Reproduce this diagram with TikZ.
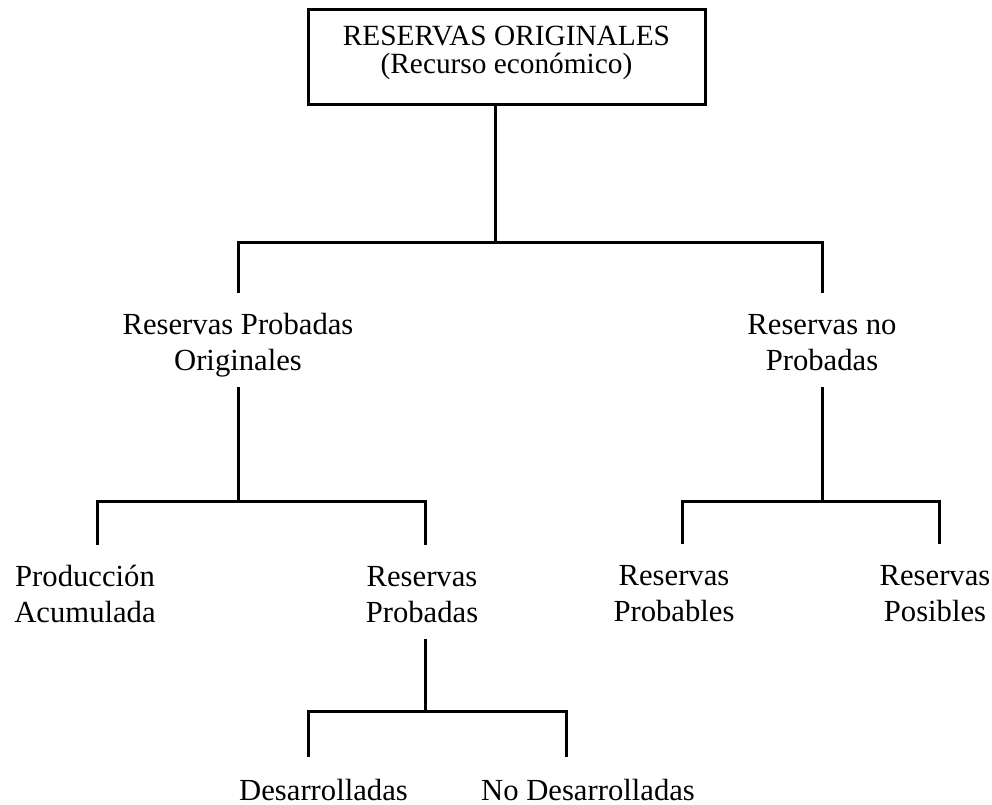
\documentclass[tikz,border=0pt]{standalone}
\usepackage{fontspec}
\setmainfont{Liberation Serif}
\begin{document}
\begin{tikzpicture}[x=0.75pt,y=-0.75pt,line width=2.25pt,
	font=\fontsize{23}{27}\selectfont,
	lbl/.style={align=center,inner sep=0pt,anchor=base,text height=57pt,text depth=11.25pt},
	leaf/.style={align=center,inner sep=0pt,anchor=base,text height=31.5pt,text depth=0pt},
	caja/.style={draw,align=center,minimum width=297.75pt,minimum height=71.25pt,inner sep=0pt,text depth=12pt,font=\fontsize{22}{20.8}\selectfont}]
	\useasboundingbox (0,0) rectangle (992,805);
	\node[caja] (orig) at (506.5,57.5) {RESERVAS ORIGINALES\\(Recurso económico)};
	\node[lbl] (rpo) at (238,371) {Reservas Probadas\\Originales};
	\node[lbl] (rnp) at (822,371) {Reservas no\\Probadas};
	\node[lbl] (pac) at (85,622) {Producción\\Acumulada};
	\node[lbl] (rpb) at (422,622) {Reservas\\Probadas};
	\node[lbl] (rpl) at (674,621) {Reservas\\Probables};
	\node[lbl] (rps) at (935,621) {Reservas\\Posibles};
	\node[leaf] (des) at (323.5,800) {Desarrolladas};
	\node[leaf] (nod) at (588,800) {No Desarrolladas};
	\coordinate (b1) at (495,243);
	\coordinate (b2) at (238,501);
	\coordinate (b3) at (822,501);
	\coordinate (b4) at (425,711);
	\draw (orig.south -| b1) -- (b1);
	\draw (rpo.north) |- (b1) -| (rnp.north);
	\draw (rpo.south) -- (b2);
	\draw ([xshift=9pt]pac.north) |- (b2) -| ([xshift=2.25pt]rpb.north);
	\draw (rnp.south) -- (b3);
	\draw ([xshift=6pt]rpl.north) |- (b3) -| ([xshift=3pt]rps.north);
	\draw ([xshift=2.25pt]rpb.south) -- (b4);
	\draw ([xshift=-11.6pt]des.north) |- (b4) -| ([xshift=-16.5pt]nod.north);
\end{tikzpicture}
\end{document}
